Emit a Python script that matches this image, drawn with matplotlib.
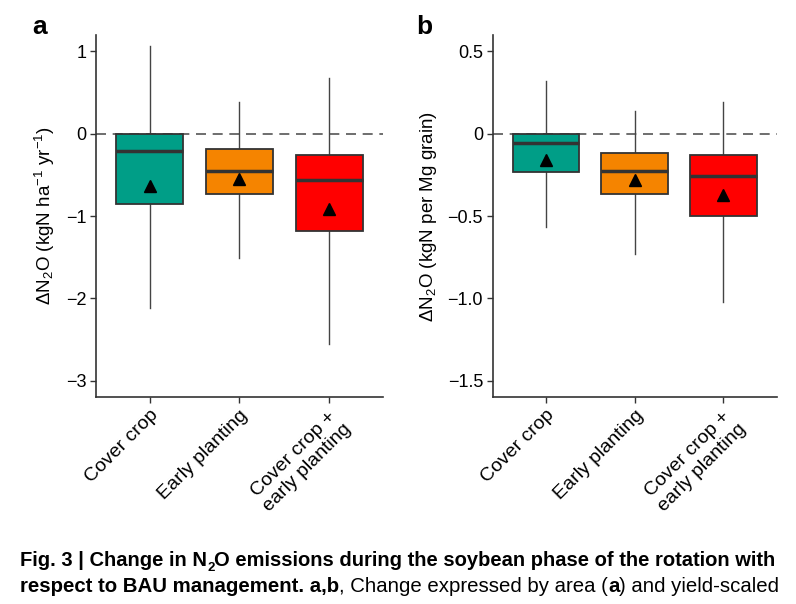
import matplotlib.pyplot as plt

plt.rcParams['font.family'] = ['Liberation Sans', 'DejaVu Sans']
plt.rcParams['mathtext.fontset'] = 'custom'
plt.rcParams['mathtext.rm'] = 'Liberation Sans'
plt.rcParams['mathtext.it'] = 'Liberation Sans:italic'

categories = ['Cover crop', 'Early planting', 'Cover crop +\nearly planting']
colors = ['#009E87', '#F58400', '#FF0000']

# panel a: change per area (kgN ha-1 yr-1)
a_whislo = [-2.12, -1.51, -2.56]
a_q1 = [-0.855, -0.73, -1.18]
a_med = [-0.21, -0.45, -0.565]
a_q3 = [0.0, -0.19, -0.255]
a_whishi = [1.07, 0.38, 0.68]
a_mean = [-0.64, -0.55, -0.915]

# panel b: yield-scaled change (kgN per Mg grain)
b_whislo = [-0.569, -0.729, -1.022]
b_q1 = [-0.231, -0.365, -0.50]
b_med = [-0.059, -0.225, -0.257]
b_q3 = [0.0, -0.117, -0.132]
b_whishi = [0.322, 0.14, 0.19]
b_mean = [-0.162, -0.284, -0.37]


def draw(ax, lo, q1, med, q3, hi, mean, ylim, yticks, yticklabels, ylabel):
    stats = []
    for i in range(len(categories)):
        stats.append(dict(whislo=lo[i], q1=q1[i], med=med[i], q3=q3[i],
                          whishi=hi[i], mean=mean[i], fliers=[]))
    ax.axhline(0, color='#555555', lw=1.2, ls=(0, (6, 4)), zorder=0)
    bp = ax.bxp(stats, positions=[1, 2, 3], widths=0.75, patch_artist=True,
                showmeans=True, showcaps=False,
                boxprops=dict(edgecolor='#333333', linewidth=1.3),
                medianprops=dict(color='#333333', linewidth=2.5),
                whiskerprops=dict(color='#444444', linewidth=1.0),
                meanprops=dict(marker='^', markerfacecolor='black',
                               markeredgecolor='black', markersize=8.5))
    for patch, c in zip(bp['boxes'], colors):
        patch.set_facecolor(c)
    for w in bp['whiskers']:
        w.set_zorder(0.5)
    ax.set_xlim(0.4, 3.6)
    ax.set_ylim(*ylim)
    ax.set_yticks(yticks)
    ax.set_yticklabels(yticklabels)
    ax.set_xticks([1, 2, 3])
    ax.set_xticklabels(categories, rotation=45, ha='right',
                       rotation_mode='anchor', multialignment='center',
                       fontsize=14)
    ax.spines['top'].set_visible(False)
    ax.spines['right'].set_visible(False)
    for s in ('left', 'bottom'):
        ax.spines[s].set_color('#333333')
        ax.spines[s].set_linewidth(1.2)
    ax.tick_params(direction='out', length=4, width=1.0, color='#333333',
                   pad=3)
    ax.tick_params(axis='y', labelsize=13)
    ax.set_ylabel(ylabel, fontsize=13.5, labelpad=6)


fig = plt.figure(figsize=(7.96, 6.04), dpi=100)
ax1 = fig.add_axes([0.1206, 0.3427, 0.3605, 0.5993])
ax2 = fig.add_axes([0.619, 0.3427, 0.3568, 0.5993])

draw(ax1, a_whislo, a_q1, a_med, a_q3, a_whishi, a_mean,
     (-3.2, 1.2), [1, 0, -1, -2, -3], ['1', '0', '\u22121', '\u22122', '\u22123'],
     '\u0394N$_2$O (kgN ha$^{-1}$ yr$^{-1}$)')
draw(ax2, b_whislo, b_q1, b_med, b_q3, b_whishi, b_mean,
     (-1.6, 0.6), [0.5, 0, -0.5, -1.0, -1.5],
     ['0.5', '0', '\u22120.5', '\u22121.0', '\u22121.5'],
     '\u0394N$_2$O (kgN per Mg grain)')

fig.text(0.041, 0.955, 'a', fontsize=19, fontweight='bold', va='center')
fig.text(0.523, 0.955, 'b', fontsize=19, fontweight='bold', va='center')

# caption, written as runs of (text, bold, subscript)
cap_font = ['Liberation Sans', 'DejaVu Sans']
line1 = [('Fig. 3 | Change in N', True, False), ('2', True, True),
         ('O emissions during the soybean phase of the rotation with', True, False)]
line2 = [('respect to BAU management. a,b', True, False), (', Change expressed by area (', False, False),
         ('a', True, False), (') and yield-scaled', False, False)]

renderer = fig.canvas.get_renderer()


def put_line(runs, y, size, x0=20):
    x = x0
    made = []
    for txt, bold, sub in runs:
        t = fig.text(x / 796, y - (0.008 if sub else 0), txt,
                     fontsize=size * (0.65 if sub else 1),
                     family=cap_font, fontweight='bold' if bold else 'normal',
                     va='baseline')
        made.append(t)
        x = t.get_window_extent(renderer).x1
    return made, x - x0


def fit_line(runs, y, width):
    made, w = put_line(runs, y, 15)
    for t in made:
        t.remove()
    put_line(runs, y, 15 * width / w)


fit_line(line1, 0.063, 760)
fit_line(line2, 0.020, 762)

fig.savefig('out.png', dpi=100)
